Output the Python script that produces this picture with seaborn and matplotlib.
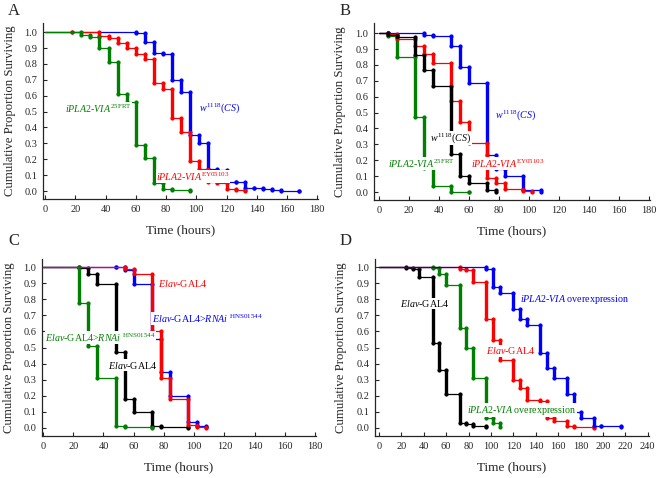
import numpy as np
import pandas as pd
import matplotlib
matplotlib.use("Agg")
import matplotlib.pyplot as plt
import seaborn as sns

# ---------------------------------------------------------------
# Données : temps (heures) et proportion survivante
# ---------------------------------------------------------------
# Panneau A
blue_A_t = [0, 60, 66, 72, 78, 84, 90, 96, 102, 108, 114, 120, 126, 132, 138, 144, 150, 156, 168]
blue_A_s = [1.0, 0.995, 0.94, 0.87, 0.86, 0.70, 0.625, 0.35, 0.30, 0.14, 0.135, 0.06, 0.058, 0.02, 0.018, 0.01, 0.008, 0.003, 0.003]
red_A_t = [0, 18, 36, 42, 48, 54, 60, 66, 72, 78, 84, 90, 96, 102, 108, 114, 120, 126, 132]
red_A_s = [1.0, 0.998, 0.975, 0.965, 0.93, 0.90, 0.86, 0.83, 0.68, 0.645, 0.46, 0.37, 0.19, 0.14, 0.06, 0.05, 0.01, 0.005, 0.003]
green_A_t = [0, 24, 30, 36, 42, 48, 54, 60, 66, 72, 78, 84, 96]
green_A_s = [1.0, 0.98, 0.97, 0.90, 0.81, 0.61, 0.56, 0.29, 0.21, 0.05, 0.012, 0.008, 0.002]

# Panneau B
blue_B_t = [0, 6, 30, 36, 48, 54, 60, 72, 78, 84, 96, 108]
blue_B_s = [1.0, 0.998, 0.99, 0.98, 0.92, 0.79, 0.685, 0.235, 0.145, 0.10, 0.01, 0.003]
red_B_t = [0, 6, 12, 24, 30, 36, 48, 54, 60, 72, 78, 84, 96, 102]
red_B_s = [1.0, 0.995, 0.965, 0.92, 0.87, 0.81, 0.575, 0.44, 0.31, 0.09, 0.06, 0.02, 0.008, 0.003]
black_B_t = [0, 6, 12, 24, 30, 36, 48, 54, 60, 72, 78]
black_B_s = [1.0, 0.99, 0.975, 0.86, 0.77, 0.67, 0.24, 0.10, 0.06, 0.015, 0.003]
green_B_t = [0, 6, 12, 24, 30, 36, 48, 60]
green_B_s = [1.0, 0.98, 0.85, 0.475, 0.15, 0.04, 0.003, 0.003]

# Panneau C
black_C_t = [0, 24, 30, 36, 48, 54, 60, 72, 78, 96]
black_C_s = [1.0, 0.995, 0.96, 0.895, 0.47, 0.18, 0.10, 0.012, 0.008, 0.002]
green_C_t = [0, 24, 30, 36, 48, 54, 72]
green_C_s = [1.0, 0.78, 0.51, 0.31, 0.015, 0.005, 0.002]
blue_C_t = [0, 48, 54, 60, 72, 78, 84, 96, 102, 108]
blue_C_s = [1.0, 0.998, 0.98, 0.895, 0.555, 0.35, 0.20, 0.04, 0.01, 0.003]
red_C_t = [0, 54, 60, 72, 78, 84, 96, 102, 108]
red_C_s = [1.0, 0.99, 0.955, 0.60, 0.31, 0.18, 0.02, 0.003, 0.002]

# Panneau D
black_D_t = [0, 24, 30, 36, 48, 54, 60, 72, 78, 84, 96]
black_D_s = [1.0, 0.995, 0.99, 0.94, 0.53, 0.36, 0.21, 0.03, 0.025, 0.015, 0.005]
green_D_t = [0, 48, 54, 60, 72, 78, 84, 96, 102, 108]
green_D_s = [1.0, 0.995, 0.96, 0.89, 0.62, 0.50, 0.31, 0.06, 0.03, 0.005]
red_D_t = [0, 72, 78, 84, 96, 102, 108, 120, 126, 132, 144, 150, 156, 168, 174, 192]
red_D_s = [1.0, 0.99, 0.98, 0.91, 0.68, 0.55, 0.42, 0.30, 0.25, 0.175, 0.17, 0.06, 0.045, 0.015, 0.005, 0.001]
blue_D_t = [0, 96, 102, 108, 120, 126, 132, 144, 150, 156, 168, 174, 180, 192, 198, 216]
blue_D_s = [1.0, 0.99, 0.875, 0.84, 0.74, 0.675, 0.64, 0.465, 0.375, 0.31, 0.21, 0.10, 0.06, 0.015, 0.01, 0.005]

# Etiquettes
lab_25frt = r"$\mathit{iPLA2}$-$\mathit{VIA}^{\mathrm{25FRT}}$"
lab_ey = r"$\mathit{iPLA2}$-$\mathit{VIA}^{\mathrm{EY05103}}$"
lab_w = r"$\mathit{w}^{\mathrm{1118}}\mathrm{(}\mathit{CS}\mathrm{)}$"
lab_elav = r"$\mathit{Elav}$-GAL4"
lab_rnai = r"$\mathit{Elav}$-GAL4>$\mathit{RNAi}^{\ \mathrm{HNS01544}}$"
lab_over = r"$\mathit{iPLA2}$-$\mathit{VIA}$ overexpression"

BLUE, RED, GREEN, BLACK = "#0000ff", "#ff0000", "#008000", "#000000"

sns.set_style("ticks")
plt.rcParams['font.family'] = ['Liberation Serif', 'DejaVu Serif']
plt.rcParams['mathtext.fontset'] = 'custom'
plt.rcParams['mathtext.rm'] = 'Liberation Serif'
plt.rcParams['mathtext.it'] = 'Liberation Serif:italic'


def draw_km(ax, t, s, color):
    df = pd.DataFrame({'t': t, 's': s})
    # paliers horizontaux fins
    sns.lineplot(data=df, x='t', y='s', ax=ax, color=color, lw=0.9,
                 drawstyle='steps-post', estimator=None, sort=False)
    # chutes verticales épaisses
    ax.vlines(df['t'][1:], df['s'][:-1].values, df['s'][1:].values,
              color=color, lw=2.4, capstyle='round')
    # marques aux extrémités
    pts = pd.DataFrame({'t': list(df['t'][1:]) * 2,
                        's': list(df['s'][:-1]) + list(df['s'][1:])})
    sns.scatterplot(data=pts, x='t', y='s', ax=ax, color=color, s=9,
                    edgecolor=color, linewidth=0)


def lab(ax, x, y, txt, color):
    ax.text(x, y, txt, color=color, fontsize=7.2, ha='left', va='center',
            zorder=10, bbox=dict(facecolor='white', edgecolor='none', pad=0.3))


def style(ax, xmin, xmax, ymin, ymax, xticks):
    ax.set_xlim(xmin, xmax)
    ax.set_ylim(ymin, ymax)
    ax.set_xticks(xticks)
    ax.set_yticks(np.arange(0, 1.01, 0.1))
    ax.set_yticklabels([f"{v:.1f}" for v in np.arange(0, 1.01, 0.1)])
    ax.tick_params(direction='in', length=3, width=0.8, labelsize=7.5, pad=4)
    for sp in ['top', 'right']:
        ax.spines[sp].set_visible(False)
    for sp in ['left', 'bottom']:
        ax.spines[sp].set_linewidth(0.9)
    ax.set_xlabel("Time (hours)", fontsize=9.5)
    ax.set_ylabel("Cumulative Proportion Surviving", fontsize=9.2)
    ax.xaxis.set_label_coords(0.5, -0.145)
    ax.yaxis.set_label_coords(-0.1, 0.5)


fig = plt.figure(figsize=(6.6, 4.78), dpi=100)
axA = fig.add_axes([0.0652, 0.5837, 0.4167, 0.368])
axB = fig.add_axes([0.5667, 0.5816, 0.418, 0.370])
axC = fig.add_axes([0.0636, 0.0879, 0.415, 0.370])
axD = fig.add_axes([0.568, 0.0879, 0.415, 0.370])

# A
draw_km(axA, blue_A_t, blue_A_s, BLUE)
draw_km(axA, red_A_t, red_A_s, RED)
draw_km(axA, green_A_t, green_A_s, GREEN)
style(axA, -1.3, 180.5, -0.05, 1.057, np.arange(0, 181, 20))
lab(axA, 13, 0.52, lab_25frt, GREEN)
lab(axA, 102, 0.52, lab_w, BLUE)
lab(axA, 73.5, 0.09, lab_ey, RED)

# B
draw_km(axB, green_B_t, green_B_s, GREEN)
draw_km(axB, blue_B_t, blue_B_s, BLUE)
draw_km(axB, red_B_t, red_B_s, RED)
draw_km(axB, black_B_t, black_B_s, BLACK)
style(axB, -3.3, 180.5, -0.05, 1.063, np.arange(0, 181, 20))
lab(axB, 77.5, 0.485, lab_w, BLUE)
lab(axB, 34, 0.34, lab_w, BLACK)
lab(axB, 6, 0.18, lab_25frt, GREEN)
lab(axB, 61.5, 0.18, lab_ey, RED)

# C
draw_km(axC, black_C_t, black_C_s, BLACK)
draw_km(axC, green_C_t, green_C_s, GREEN)
draw_km(axC, blue_C_t, blue_C_s, BLUE)
draw_km(axC, red_C_t, red_C_s, RED)
style(axC, -0.7, 180.5, -0.05, 1.05, np.arange(0, 181, 20))
lab(axC, 76, 0.896, lab_elav, RED)
lab(axC, 72, 0.68, lab_rnai, BLUE)
lab(axC, 1.5, 0.5625, lab_rnai, GREEN)
lab(axC, 43, 0.39, lab_elav, BLACK)

# D
draw_km(axD, black_D_t, black_D_s, BLACK)
draw_km(axD, green_D_t, green_D_s, GREEN)
draw_km(axD, red_D_t, red_D_s, RED)
draw_km(axD, blue_D_t, blue_D_s, BLUE)
style(axD, -3.6, 240.9, -0.05, 1.05, np.arange(0, 241, 20))
lab(axD, 126, 0.80, lab_over, BLUE)
lab(axD, 19, 0.774, lab_elav, BLACK)
lab(axD, 96, 0.48, lab_elav, RED)
lab(axD, 78.5, 0.11, lab_over, GREEN)

# lettres des panneaux
for x, y, letter in [(0.012, 0.993, 'A'), (0.515, 0.993, 'B'), (0.012, 0.513, 'C'), (0.515, 0.513, 'D')]:
    fig.text(x, y, letter, fontsize=12, ha='left', va='top')

fig.savefig("out.png", dpi=100)
